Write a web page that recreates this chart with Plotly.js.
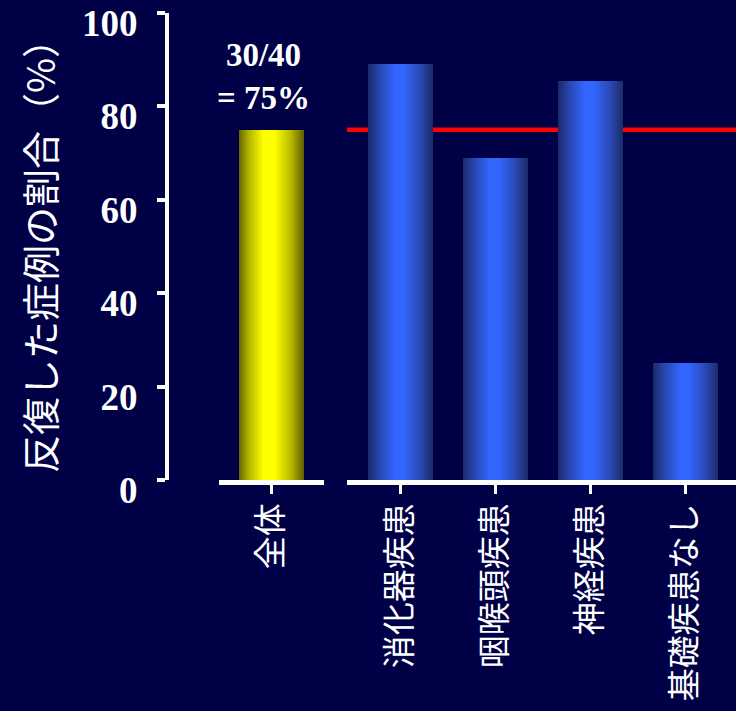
<!DOCTYPE html>
<html>
<head>
<meta charset="utf-8">
<script src="https://cdn.plot.ly/plotly-3.0.1.min.js"></script>
<style>
html,body{margin:0;padding:0;background:#000046;}
#chart{width:736px;height:711px;}
</style>
</head>
<body>
<div id="chart"></div>
<script>
// Data
const totalCategory = ['全体'];
const totalValue = [75];
const groupCategories = ['消化器疾患', '咽喉頭疾患', '神経疾患', '基礎疾患なし'];
const groupValues = [89, 69, 85.5, 25];
const referenceLevel = 75;
const totalLabel = '30/40<br>= 75%';
const yTickValues = [0, 20, 40, 60, 80, 100];
const yTitle = '反復した症例の割合（%）';

const W = 736, H = 711;
const L = 167, R = 0, T = 13, B = 231;
const plotW = W - L - R;
const px = p => (p - L) / plotW;

const tickFont = {family: 'Liberation Serif, Times New Roman, serif', size: 37, color: '#ffffff', weight: 'bold'};
const catFont = {family: 'Noto Sans CJK JP, sans-serif', size: 33, color: '#ffffff'};

const traces = [
  {type: 'bar', x: totalCategory, y: totalValue, xaxis: 'x', yaxis: 'y',
   width: 0.62, marker: {color: '#ffff00', line: {width: 0}}, hoverinfo: 'none'},
  {type: 'bar', x: groupCategories, y: groupValues, xaxis: 'x2', yaxis: 'y',
   width: 0.683, marker: {color: '#3366ff', line: {width: 0}}, hoverinfo: 'none'}
];

const xCommon = {
  type: 'category', showline: true, linecolor: '#ffffff', linewidth: 5,
  ticks: 'outside', tickcolor: '#ffffff', ticklen: 9, tickwidth: 3,
  tickangle: -90, tickfont: catFont, showgrid: false, zeroline: false,
  anchor: 'y', fixedrange: true, ticklabelstandoff: -4, ticklabeloverflow: 'allow'
};

const layout = {
  width: W, height: H,
  margin: {l: L, r: R, t: T, b: B, pad: 0},
  paper_bgcolor: '#000046', plot_bgcolor: 'rgba(0,0,0,0)',
  showlegend: false, bargap: 0,
  xaxis: Object.assign({}, xCommon, {domain: [px(219), px(324)], range: [-0.5, 0.5]}),
  xaxis2: Object.assign({}, xCommon, {domain: [px(347), 1], range: [-0.557, 3.53]}),
  yaxis: {
    range: [0, 100], tickvals: yTickValues, anchor: 'free', position: 0,
    showline: true, linecolor: '#ffffff', linewidth: 4,
    ticks: 'outside', tickcolor: '#ffffff', ticklen: 8, tickwidth: 4,
    tickfont: tickFont, showgrid: false, zeroline: false, fixedrange: true,
    ticklabelstandoff: 12, ticklabelshift: 10, ticklabeloverflow: 'allow',
    title: {text: yTitle, font: {family: 'Noto Sans CJK JP, sans-serif', size: 38, color: '#ffffff'}, standoff: 14}
  },
  shapes: [{
    type: 'line', layer: 'below', xref: 'x2 domain', yref: 'y',
    x0: 0, x1: 1, y0: referenceLevel, y1: referenceLevel,
    line: {color: '#ff0000', width: 4.5}
  }],
  annotations: [{
    xref: 'x', yref: 'y', x: totalCategory[0], y: totalValue[0],
    text: totalLabel, showarrow: false, yanchor: 'bottom', xanchor: 'center',
    xshift: -8, yshift: 12,
    font: {family: 'Liberation Serif, Times New Roman, serif', size: 33, color: '#ffffff', weight: 'bold'}
  }]
};

Plotly.newPlot('chart', traces, layout, {displayModeBar: false, staticPlot: true}).then(gd => {
  const svg = gd.querySelector('svg.main-svg');
  const ns = 'http://www.w3.org/2000/svg';
  let defs = svg.querySelector('defs');
  if (!defs) { defs = document.createElementNS(ns, 'defs'); svg.insertBefore(defs, svg.firstChild); }
  function grad(id, stops) {
    const g = document.createElementNS(ns, 'linearGradient');
    g.setAttribute('id', id);
    g.setAttribute('x1', '0'); g.setAttribute('x2', '1');
    g.setAttribute('y1', '0'); g.setAttribute('y2', '0');
    stops.forEach(([o, c]) => {
      const s = document.createElementNS(ns, 'stop');
      s.setAttribute('offset', o); s.setAttribute('stop-color', c);
      g.appendChild(s);
    });
    defs.appendChild(g);
  }
  grad('gradYellow', [['0', '#666600'], ['0.15', '#b3b300'], ['0.38', '#ffff00'], ['0.55', '#ffff00'], ['0.8', '#b8b800'], ['1', '#5f5f00']]);
  grad('gradBlue', [['0', '#1a2966'], ['0.18', '#2846b0'], ['0.42', '#3366ff'], ['0.55', '#3366ff'], ['0.8', '#2a4ab8'], ['1', '#1c2c68']]);
  const barTraces = gd.querySelectorAll('.barlayer .trace');
  barTraces.forEach((t, i) => {
    t.querySelectorAll('path').forEach(p => {
      p.style.fill = i === 0 ? 'url(#gradYellow)' : 'url(#gradBlue)';
    });
  });
});
</script>
</body>
</html>
